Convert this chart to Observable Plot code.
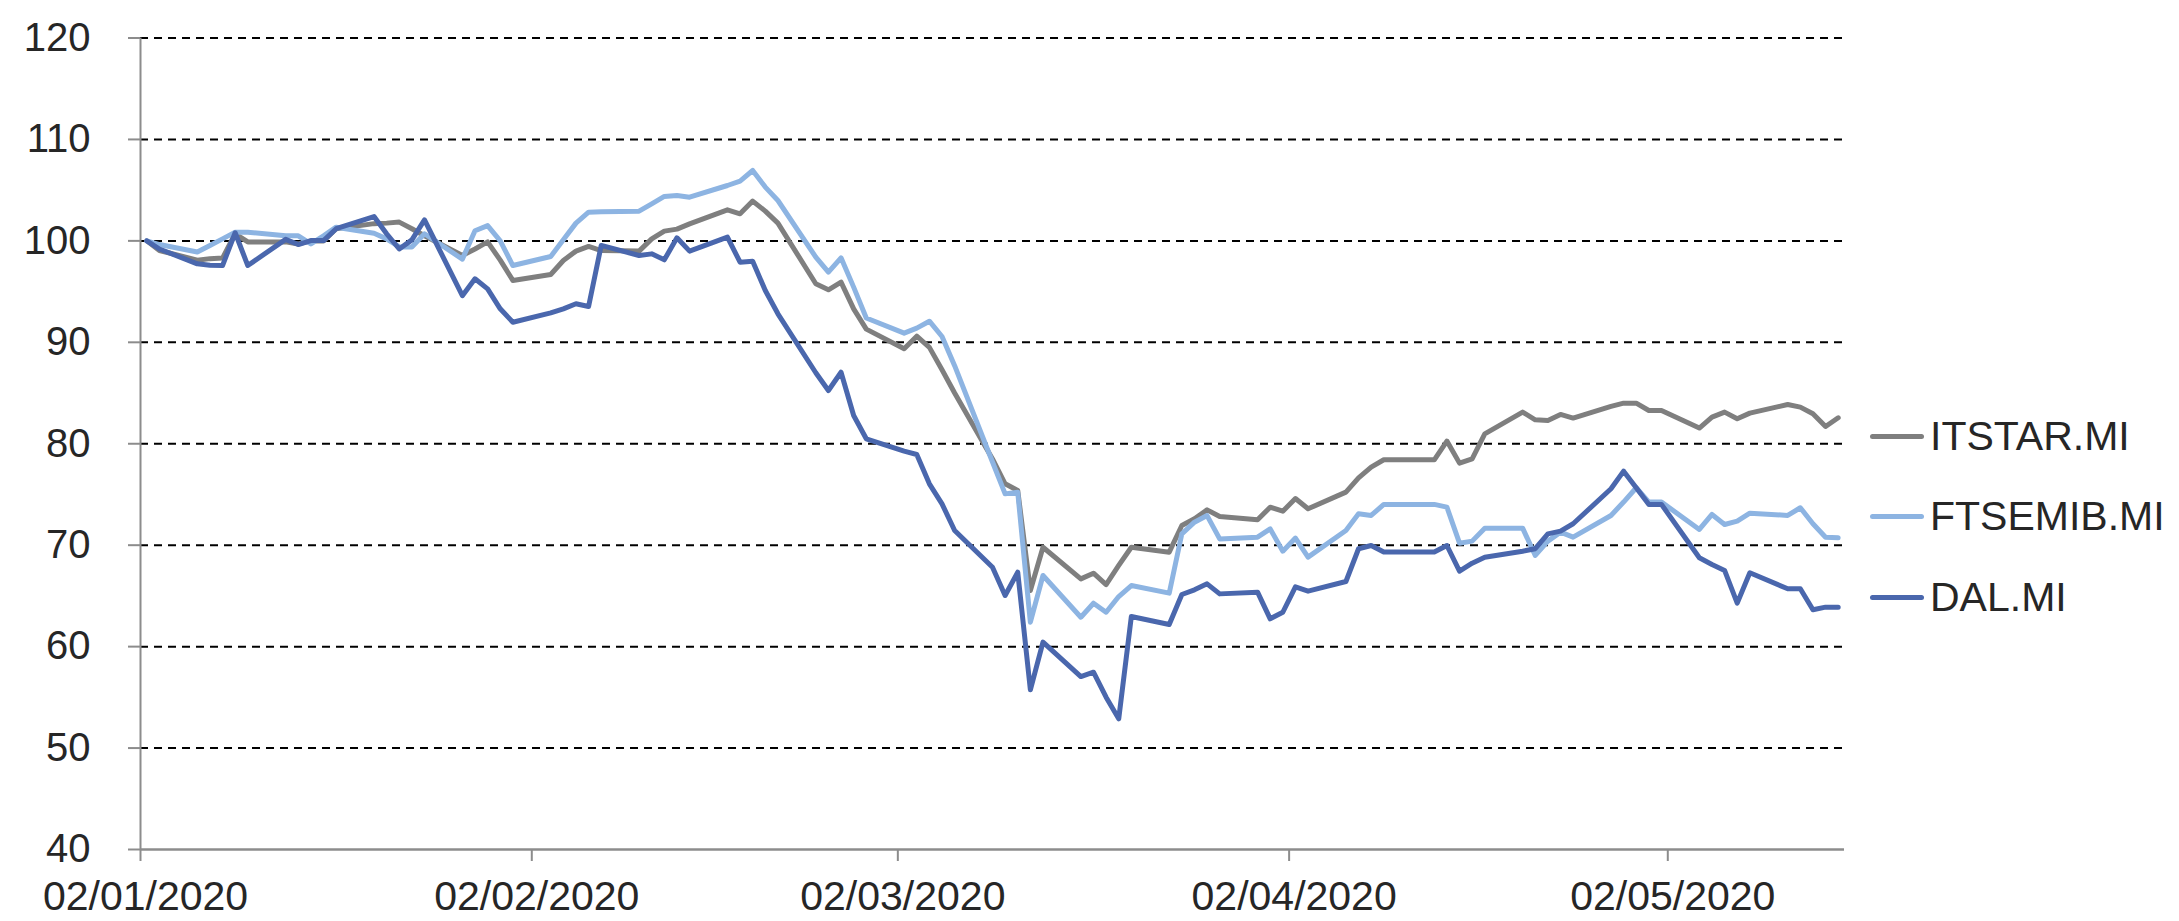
<!DOCTYPE html>
<html>
<head>
<meta charset="utf-8">
<script src="https://cdn.jsdelivr.net/npm/d3@7"></script>
<script src="https://cdn.jsdelivr.net/npm/@observablehq/plot@0.6"></script>
<style>
  html, body { margin: 0; padding: 0; background: #fff; }
  #wrap { position: relative; width: 2179px; height: 921px; font-family: "Liberation Sans", Arial, sans-serif; }
  .lg-row { position: absolute; left: 1870px; height: 50px; display: flex; align-items: center; }
  .lg-sw { width: 54px; height: 5px; border-radius: 3px; }
  .lg-tx { margin-left: 6px; font-size: 41px; line-height: 1; color: #262626; white-space: nowrap; }
  g[aria-label="y-axis tick"] path, g[aria-label="x-axis tick"] path { stroke: #8c8c8c; }
</style>
</head>
<body>
<div id="wrap"></div>
<script>
// ---- data ----
const dates = [
  "2020-01-02","2020-01-03","2020-01-06","2020-01-07","2020-01-08","2020-01-09","2020-01-10",
  "2020-01-13","2020-01-14","2020-01-15","2020-01-16","2020-01-17",
  "2020-01-20","2020-01-21","2020-01-22","2020-01-23","2020-01-24",
  "2020-01-27","2020-01-28","2020-01-29","2020-01-30","2020-01-31",
  "2020-02-03","2020-02-04","2020-02-05","2020-02-06","2020-02-07",
  "2020-02-10","2020-02-11","2020-02-12","2020-02-13","2020-02-14",
  "2020-02-17","2020-02-18","2020-02-19","2020-02-20","2020-02-21",
  "2020-02-24","2020-02-25","2020-02-26","2020-02-27","2020-02-28",
  "2020-03-02","2020-03-03","2020-03-04","2020-03-05","2020-03-06",
  "2020-03-09","2020-03-10","2020-03-11","2020-03-12","2020-03-13",
  "2020-03-16","2020-03-17","2020-03-18","2020-03-19","2020-03-20",
  "2020-03-23","2020-03-24","2020-03-25","2020-03-26","2020-03-27",
  "2020-03-30","2020-03-31","2020-04-01","2020-04-02","2020-04-03",
  "2020-04-06","2020-04-07","2020-04-08","2020-04-09","2020-04-10",
  "2020-04-13","2020-04-14","2020-04-15","2020-04-16","2020-04-17",
  "2020-04-20","2020-04-21","2020-04-22","2020-04-23","2020-04-24",
  "2020-04-27","2020-04-28","2020-04-29","2020-04-30","2020-05-01",
  "2020-05-04","2020-05-05","2020-05-06","2020-05-07","2020-05-08",
  "2020-05-11","2020-05-12","2020-05-13","2020-05-14","2020-05-15"
];

const itstar = [
  100, 99.05, 98.1, 98.25, 98.3, 100.7, 99.9,
  99.9, 99.7, 100.0, 100.0, 101.2,
  101.7, 101.75, 101.85, 101.2, 100.5,
  98.56, 99.2, 99.9, 98.1, 96.1,
  96.69, 98.07, 98.99, 99.45, 99.05,
  98.99, 100.2, 100.96, 101.16, 101.68,
  103.06, 102.67, 103.92, 102.93, 101.75,
  95.77, 95.18, 95.93, 93.3, 91.3,
  89.36, 90.6, 89.5, 87.3, 85.0,
  78.5, 76.05, 75.39, 65.53, 69.8,
  66.68, 67.24, 66.12, 68.0, 69.8,
  69.31, 71.94, 72.6, 73.48, 72.82,
  72.5, 73.75, 73.35, 74.6, 73.59,
  75.23, 76.64, 77.7, 78.42, 78.42,
  78.42, 80.26, 78.09, 78.52, 80.98,
  83.12, 82.36, 82.3, 82.89, 82.53,
  83.68, 84.0, 84.0, 83.28, 83.28,
  81.55, 82.63, 83.12, 82.46, 83.02,
  83.87, 83.61, 82.95, 81.7, 82.56
];

const ftsemib = [
  100, 99.64, 98.9, 99.55, 100.2, 100.86, 100.86,
  100.5, 100.5, 99.7, 100.5, 101.35,
  100.76, 100.2, 99.4, 99.4, 100.7,
  98.2, 101.0, 101.5, 100.0, 97.57,
  98.46, 100.1, 101.75, 102.83, 102.86,
  102.93, 103.65, 104.38, 104.48, 104.31,
  105.46, 105.89, 106.94, 105.3, 103.98,
  98.4, 96.92, 98.33, 95.44, 92.4,
  90.9, 91.4, 92.08, 90.57, 87.7,
  78.2, 75.06, 75.22, 62.41, 67.01,
  62.9, 64.28, 63.39, 64.94, 66.02,
  65.27, 71.12, 72.27, 72.92, 70.62,
  70.79, 71.61, 69.41, 70.7, 68.82,
  71.45, 73.09, 72.93, 74.02, 74.02,
  74.02, 73.75, 70.2, 70.4, 71.68,
  71.68, 68.99, 70.4, 71.29, 70.79,
  72.93, 74.25, 75.66, 74.25, 74.25,
  71.55, 73.03, 72.04, 72.37, 73.16,
  72.93, 73.69, 72.11, 70.79, 70.73
];

const dal = [
  100, 99.2, 97.74, 97.6, 97.57, 100.8, 97.57,
  100.15, 99.64, 100.03, 100.03, 101.2,
  102.4, 100.7, 99.2, 100.1, 102.07,
  94.6, 96.26, 95.27, 93.3, 91.98,
  92.9, 93.3, 93.8, 93.53, 99.55,
  98.56, 98.72, 98.13, 100.3, 98.99,
  100.37, 97.9, 98.0, 95.11, 92.81,
  87.0, 85.25, 87.05, 82.79, 80.49,
  79.27, 78.94, 76.05, 74.07, 71.45,
  67.83, 65.04, 67.34, 55.74, 60.44,
  57.05, 57.48, 55.01, 52.88, 62.97,
  62.18, 65.14, 65.6, 66.19, 65.2,
  65.37, 62.74, 63.39, 65.9, 65.47,
  66.42, 69.65, 69.97, 69.32, 69.32,
  69.32, 69.97, 67.44, 68.23, 68.82,
  69.41, 69.65, 71.12, 71.39, 72.11,
  75.56, 77.3, 75.66, 74.02, 74.02,
  68.76, 68.1, 67.51, 64.29, 67.28,
  65.7, 65.7, 63.63, 63.89, 63.89
];

const seriesNames = ["ITSTAR.MI", "FTSEMIB.MI", "DAL.MI"];
const seriesValues = [itstar, ftsemib, dal];
const seriesColors = ["#7f7f7f", "#8db4e2", "#4a67ad"];

const yTicks = [40, 50, 60, 70, 80, 90, 100, 110, 120];
const xTickLabels = ["02/01/2020", "02/02/2020", "02/03/2020", "02/04/2020", "02/05/2020"];
const xStart = "2020-01-02";
const xEnd = "2020-05-16";

// ---- build ----
const parseTick = d3.utcParse("%d/%m/%Y");
const fmtTick = d3.utcFormat("%d/%m/%Y");
const xTicks = xTickLabels.map(parseTick);
const xDomain = [new Date(xStart + "T00:00:00Z"), new Date(xEnd + "T00:00:00Z")];

const rows = [];
seriesNames.forEach((name, s) => {
  dates.forEach((d, i) => rows.push({series: name, date: new Date(d + "T12:00:00Z"), value: seriesValues[s][i]}));
});

const font = "'Liberation Sans', Arial, sans-serif";

const chart = Plot.plot({
  width: 2179,
  height: 921,
  marginLeft: 140,
  marginRight: 335,
  marginTop: 37.5,
  marginBottom: 72,
  style: {fontFamily: font, color: "#262626", background: "#fff", overflow: "visible"},
  x: {type: "utc", domain: xDomain, label: null},
  y: {domain: [40, 120], label: null},
  color: {domain: seriesNames, range: seriesColors},
  marks: [
    Plot.ruleY(yTicks.filter(v => v > 40), {stroke: "#000", strokeWidth: 2, strokeDasharray: "8,6"}),
    Plot.ruleX([xDomain[0]], {stroke: "#8c8c8c", strokeWidth: 2}),
    Plot.ruleY([40], {stroke: "#8c8c8c", strokeWidth: 2.5}),
    Plot.axisY({ticks: yTicks, label: null, tickSize: 12, tickPadding: 38, fontSize: 40, strokeWidth: 2, tickFormat: d => String(d)}),
    // tick marks only
    Plot.axisX({ticks: xTicks, label: null, tickSize: 12, strokeWidth: 2, tickFormat: () => ""}),
    // labels only, nudged right like the reference
    Plot.axisX({ticks: xTicks, label: null, tickSize: 0, tickPadding: 31, fontSize: 41, dx: 5, tickFormat: fmtTick}),
    Plot.line(rows, {x: "date", y: "value", z: "series", stroke: "series", strokeWidth: 5, strokeLinejoin: "round", strokeLinecap: "round"})
  ]
});

const wrap = document.getElementById("wrap");
wrap.appendChild(chart);

// legend (HTML overlay to the right of the plot)
const legendCenters = [436, 516, 597];
seriesNames.forEach((name, i) => {
  const row = document.createElement("div");
  row.className = "lg-row";
  row.style.top = (legendCenters[i] - 25) + "px";
  const sw = document.createElement("span");
  sw.className = "lg-sw";
  sw.style.background = seriesColors[i];
  const tx = document.createElement("span");
  tx.className = "lg-tx";
  tx.textContent = name;
  row.appendChild(sw);
  row.appendChild(tx);
  wrap.appendChild(row);
});
</script>
</body>
</html>
